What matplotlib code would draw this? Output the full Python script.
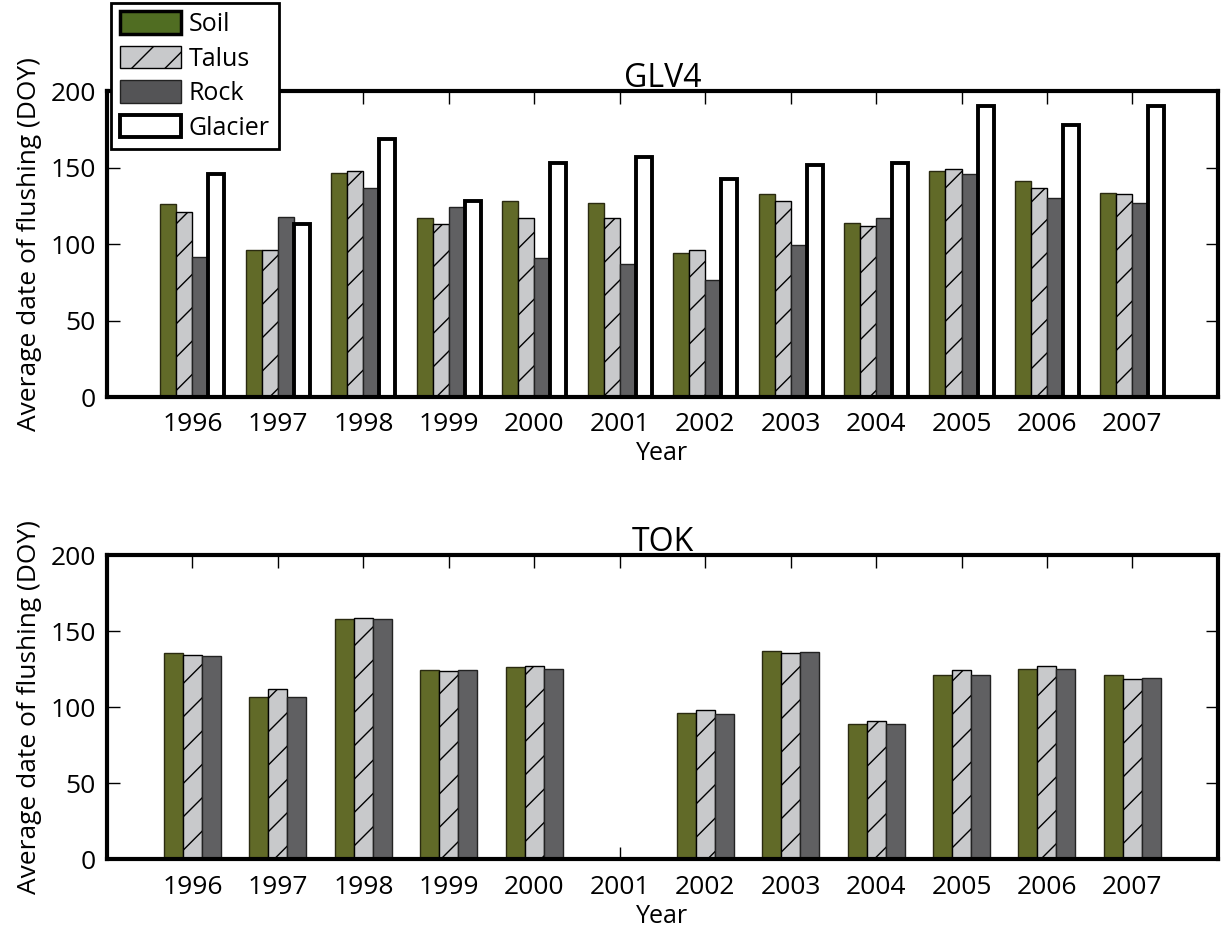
import numpy as np
import matplotlib
matplotlib.use("Agg")
import matplotlib.pyplot as plt

plt.rcParams['font.family'] = ['Open Sans', 'DejaVu Sans']
plt.rcParams['hatch.linewidth'] = 1.0

years = [1996, 1997, 1998, 1999, 2000, 2001, 2002, 2003, 2004, 2005, 2006, 2007]

# GLV4 - average day of year of flushing
glv4_soil = [126, 96.5, 146.7, 117, 128, 127, 94.5, 132.7, 113.7, 147.7, 141.6, 133.5]
glv4_talus = [121, 96.5, 148.2, 113, 117.4, 117, 96.5, 128.5, 111.7, 149.3, 136.6, 133]
glv4_rock = [91.4, 117.5, 137, 124.6, 91, 86.8, 76.7, 99.7, 117.4, 145.6, 130, 127]
glv4_glacier = [146, 113.4, 169, 128.5, 153, 157, 142.7, 151.5, 153, 190.6, 178, 190.6]

# TOK (no data for 2001)
tok_soil = [135.5, 106.8, 158.4, 124.4, 126.4, np.nan, 96.5, 136.8, 89.1, 121.6, 125.5, 121.3]
tok_talus = [134.6, 111.8, 159, 123.7, 127, np.nan, 98.3, 135.7, 90.8, 124.4, 127, 119]
tok_rock = [134, 107, 158.2, 124.8, 125.3, np.nan, 95.6, 136.2, 89.1, 121.3, 125.3, 119.4]

styles = {
    "Soil": dict(color="#616a28", edgecolor="#2a2a10", linewidth=1.0),
    "Talus": dict(color="#c8c9cb", edgecolor="black", linewidth=1.0, hatch="/"),
    "Rock": dict(color="#606062", edgecolor="#222222", linewidth=1.0),
    "Glacier": dict(color="white", edgecolor="black", linewidth=2.8),
}


def grouped_bars(ax, series, group_width):
    x = np.array(years, dtype=float)
    n = len(series)
    w = group_width / n
    for i, (name, vals) in enumerate(series):
        offset = (i - (n - 1) / 2) * w
        ax.bar(x + offset, vals, width=w, label=name, zorder=2, **styles[name])


def style_axes(ax, title):
    ax.set_xlim(1995, 2008)
    ax.set_ylim(0, 200)
    ax.set_xticks(years)
    ax.set_yticks([0, 50, 100, 150, 200])
    ax.tick_params(direction="in", top=True, right=True, length=9, width=1,
                   labelsize=19, pad=8)
    ax.tick_params(axis="x", pad=11)
    for s in ax.spines.values():
        s.set_linewidth(3)
    ax.set_title(title, fontsize=23, pad=3)
    ax.set_xlabel("Year", fontsize=18, labelpad=3)
    ax.set_ylabel("Average date of flushing (DOY)", fontsize=19, labelpad=6)


fig = plt.figure(figsize=(12.24, 9.32), dpi=100)
ax1 = fig.add_axes([0.0874, 0.574, 0.9076, 0.328])
ax2 = fig.add_axes([0.0874, 0.078, 0.9076, 0.326])

grouped_bars(ax1, [("Soil", glv4_soil), ("Talus", glv4_talus),
                   ("Rock", glv4_rock), ("Glacier", glv4_glacier)], 0.75)
style_axes(ax1, "GLV4")

grouped_bars(ax2, [("Soil", tok_soil), ("Talus", tok_talus),
                   ("Rock", tok_rock)], 0.667)
style_axes(ax2, "TOK")

leg = ax1.legend(loc="upper left", bbox_to_anchor=(0.004, 1.29), fontsize=18,
                 frameon=True, fancybox=False, framealpha=1,
                 handlelength=2.45, handleheight=1.0,
                 handletextpad=0.3, labelspacing=0.35, borderpad=0.35,
                 borderaxespad=0)
leg.get_frame().set_edgecolor("black")
leg.get_frame().set_linewidth(2)
leg.set_zorder(10)
leg.legend_handles[0].set_facecolor("#506d22")
leg.legend_handles[0].set_edgecolor("black")
leg.legend_handles[0].set_linewidth(2.5)
leg.legend_handles[2].set_facecolor("#545456")

fig.savefig("out.png", dpi=100)
